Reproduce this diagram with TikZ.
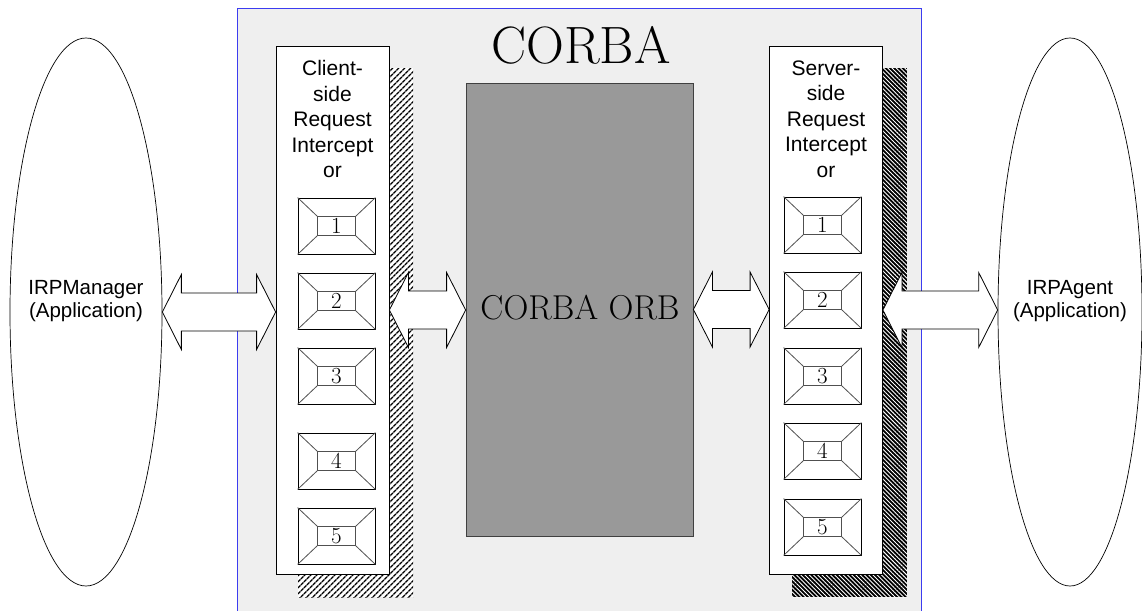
\documentclass[tikz,border=0pt]{standalone}
\usepackage{fontspec}
\newfontfamily\arialfont{Liberation Sans}
\usetikzlibrary{shapes.geometric,patterns.meta,calc}

\definecolor{corbagray}{HTML}{EFEFEF}
\definecolor{orbgray}{HTML}{999999}
\definecolor{framegray}{HTML}{505050}
\definecolor{edgeblue}{HTML}{3C3CF0}

% wide two-headed arrow between two anchors
\newcommand{\blockarrow}[2]{%
  \draw[dblarrow] let \p1=(#1), \p2=(#2) in
    (\x1,\y1) -- (\x1+19pt,\y1+37.5pt) -- (\x1+19pt,\y1+19pt)
    -- (\x2-19pt,\y1+19pt) -- (\x2-19pt,\y1+37.5pt) -- (\x2,\y1)
    -- (\x2-19pt,\y1-37.5pt) -- (\x2-19pt,\y1-19pt)
    -- (\x1+19pt,\y1-19pt) -- (\x1+19pt,\y1-37.5pt) -- cycle;}

\tikzset{
  dblarrow/.style={draw=black,fill=white,line width=0.8pt,line join=miter},
  frame/.style={draw=black,fill=white,line width=0.8pt,inner sep=0pt,
    minimum width=77pt,minimum height=56pt},
  framein/.style={draw=framegray,line width=0.8pt,inner sep=0pt,
    minimum width=38pt,minimum height=19pt,font=\fontsize{23}{23}\selectfont},
  panel/.style={draw=black,fill=white,line width=0.8pt,inner sep=0pt,
    minimum width=113pt,minimum height=528pt},
  apptext/.style={align=center,inner sep=0pt,
    font=\arialfont\fontsize{20.5}{23.5}\selectfont},
  paneltext/.style={align=center,inner sep=0pt,
    font=\arialfont\fontsize{21}{25.5}\selectfont}
}

\begin{document}
\begin{tikzpicture}[x=1pt,y=-1pt]
\useasboundingbox (0,0) rectangle (1142,610);

% CORBA area
\draw[edgeblue,fill=corbagray,line width=0.9pt] (237,8) rectangle (921,630);
\node[inner sep=0pt,font=\fontsize{52.5}{52.5}\selectfont] (title) at (581,45) {CORBA};

% shadows
\node[inner sep=0pt,minimum width=115pt,minimum height=529pt,fill=white,
  postaction={pattern={Lines[angle=45,distance=4pt,line width=1.6pt]},pattern color=black}]
  (clishadow) at (355.5,332.5) {};
\node[inner sep=0pt,minimum width=115pt,minimum height=529pt,fill=black,
  postaction={pattern={Lines[angle=-45,distance=3pt,line width=0.9pt]},pattern color=white}]
  (srvshadow) at (849.5,332.5) {};

\begin{scope}[every node/.style={panel}]
	\node (cli) at (332.5,310) {};
	\node (srv) at (826,310) {};
\end{scope}

\node[paneltext] (cliname) at (332.5,119) {Client-\\side\\Request\\Intercept\\or};
\node[paneltext] (srvname) at (826,119) {Server-\\side\\Request\\Intercept\\or};

% interceptor slots
\foreach \n/\y in {1/226,2/301,3/376,4/461,5/536} {
	\node[frame] (cf\n) at (336.5,\y) {};
	\node[framein] (ci\n) at (cf\n) {\n};
	\foreach \a in {north west,north east,south west,south east}
		\draw[framegray,line width=0.8pt] (cf\n.\a) -- (ci\n.\a);
}
\foreach \n/\y in {1/225,2/300,3/376,4/451,5/527} {
	\node[frame] (sf\n) at (822.5,\y) {};
	\node[framein] (si\n) at (sf\n) {\n};
	\foreach \a in {north west,north east,south west,south east}
		\draw[framegray,line width=0.8pt] (sf\n.\a) -- (si\n.\a);
}

% ORB
\node[draw=black!75,fill=orbgray,line width=0.8pt,inner sep=0pt,
  minimum width=227pt,minimum height=453pt] (orb) at (579.5,309.5) {};
\node[inner sep=0pt,font=\fontsize{34.5}{34.5}\selectfont] (orbname) at (580,308) {CORBA ORB};

% applications
\begin{scope}[every node/.style={ellipse,draw,line width=0.7pt,inner sep=0pt,minimum height=548pt}]
	\node[minimum width=152pt] (mgr) at (86,312) {};
	\node[minimum width=144pt] (agent) at (1070,312) {};
\end{scope}
\node[apptext] (mgrname) at (86,301) {IRPManager\\(Application)};
\node[apptext] (agentname) at (1070,301) {IRPAgent\\(Application)};

\blockarrow{mgr.east}{cli.west}
\blockarrow{cli.east}{orb.west}
\blockarrow{orb.east}{srv.west}
\blockarrow{srv.east}{agent.west}

\end{tikzpicture}
\end{document}
